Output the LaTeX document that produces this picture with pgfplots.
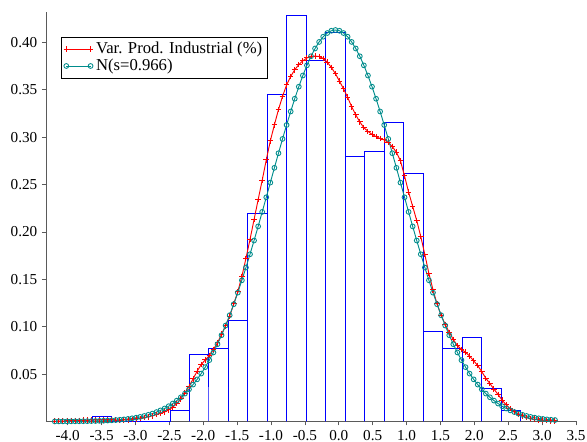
\documentclass[border=0pt]{standalone}
\usepackage{fontspec}
\setmainfont{Liberation Serif}
\usepackage{pgfplots}
\pgfplotsset{compat=1.18}
\usepackage{pgfplotstable}
\definecolor{tealc}{RGB}{0,140,140}
\definecolor{axgray}{RGB}{90,90,90}

\pgfplotstableread{
x y
-3.640 0
-3.640 0.0057
-3.3525 0.0057
-3.3525 0
-2.490 0
-2.490 0.0114
-2.2025 0.0114
-2.2025 0
-2.2025 0.0709
-1.915 0.0709
-1.915 0
-1.915 0.0772
-1.6275 0.0772
-1.6275 0
-1.6275 0.1067
-1.340 0.1067
-1.340 0
-1.340 0.2196
-1.0525 0.2196
-1.0525 0
-1.0525 0.3450
-0.765 0.3450
-0.765 0
-0.765 0.4285
-0.4775 0.4285
-0.4775 0
-0.4775 0.3806
-0.190 0.3806
-0.190 0
-0.190 0.4105
0.0975 0.4105
0.0975 0
0.0975 0.2797
0.385 0.2797
0.385 0
0.385 0.2853
0.6725 0.2853
0.6725 0
0.6725 0.3152
0.960 0.3152
0.960 0
0.960 0.2618
1.2475 0.2618
1.2475 0
1.2475 0.0947
1.535 0.0947
1.535 0
1.535 0.0768
1.8225 0.0768
1.8225 0
1.8225 0.0891
2.110 0.0891
2.110 0
2.110 0.0350
2.3975 0.0350
2.3975 0
2.3975 0.0114
2.685 0.0114
2.685 0
}\hist

\pgfplotstableread{
x y
-4.19 0.0002
-4.13 0.0003
-4.07 0.0004
-4.01 0.0005
-3.95 0.0007
-3.89 0.0009
-3.83 0.0011
-3.77 0.0013
-3.71 0.0015
-3.65 0.0016
-3.59 0.0017
-3.53 0.0018
-3.47 0.0018
-3.41 0.0017
-3.35 0.0016
-3.29 0.0015
-3.23 0.0015
-3.17 0.0016
-3.11 0.0018
-3.05 0.0021
-2.99 0.0026
-2.93 0.0032
-2.87 0.0040
-2.81 0.0049
-2.75 0.0060
-2.69 0.0072
-2.63 0.0086
-2.57 0.0100
-2.51 0.0122
-2.45 0.0150
-2.39 0.0190
-2.33 0.0240
-2.27 0.0300
-2.21 0.0370
-2.15 0.0450
-2.09 0.0530
-2.03 0.0600
-1.97 0.0650
-1.91 0.0695
-1.85 0.0760
-1.79 0.0830
-1.73 0.0920
-1.67 0.1010
-1.61 0.1110
-1.55 0.1240
-1.49 0.1370
-1.43 0.1530
-1.37 0.1720
-1.31 0.1920
-1.25 0.2130
-1.19 0.2340
-1.13 0.2545
-1.07 0.2760
-1.01 0.2960
-0.95 0.3130
-0.89 0.3290
-0.83 0.3430
-0.77 0.3550
-0.71 0.3640
-0.65 0.3710
-0.59 0.3765
-0.53 0.3805
-0.47 0.3835
-0.41 0.3850
-0.35 0.3855
-0.29 0.3850
-0.23 0.3830
-0.17 0.3790
-0.11 0.3735
-0.05 0.3670
0.01 0.3590
0.07 0.3510
0.13 0.3420
0.19 0.3320
0.25 0.3235
0.31 0.3160
0.37 0.3100
0.43 0.3060
0.49 0.3030
0.55 0.3005
0.61 0.2985
0.67 0.2970
0.73 0.2945
0.79 0.2900
0.85 0.2840
0.91 0.2750
0.97 0.2590
1.03 0.2420
1.09 0.2270
1.15 0.2120
1.21 0.1950
1.27 0.1760
1.33 0.1560
1.39 0.1390
1.45 0.1240
1.51 0.1120
1.57 0.1025
1.63 0.0940
1.69 0.0865
1.75 0.0800
1.81 0.0760
1.87 0.0730
1.93 0.0690
1.99 0.0640
2.05 0.0590
2.11 0.0525
2.17 0.0455
2.23 0.0400
2.29 0.0340
2.35 0.0285
2.41 0.0225
2.47 0.0175
2.53 0.0135
2.59 0.0105
2.65 0.0078
2.71 0.0058
2.77 0.0043
2.83 0.0031
2.89 0.0023
2.95 0.0017
3.01 0.0013
3.07 0.0010
3.13 0.0008
3.19 0.0006
}\kde

\pgfplotstableread{
x y
-4.19 0.00004
-4.13 0.00005
-4.07 0.00007
-4.01 0.00009
-3.95 0.00012
-3.89 0.00015
-3.83 0.00019
-3.77 0.00025
-3.71 0.00031
-3.65 0.00040
-3.59 0.00050
-3.53 0.00063
-3.47 0.00078
-3.41 0.00097
-3.35 0.0012
-3.29 0.0015
-3.23 0.0018
-3.17 0.0022
-3.11 0.0027
-3.05 0.0033
-2.99 0.0040
-2.93 0.0048
-2.87 0.0058
-2.81 0.0070
-2.75 0.0083
-2.69 0.0099
-2.63 0.0117
-2.57 0.0137
-2.51 0.0161
-2.45 0.0189
-2.39 0.0220
-2.33 0.0255
-2.27 0.0294
-2.21 0.0339
-2.15 0.0389
-2.09 0.0444
-2.03 0.0505
-1.97 0.0573
-1.91 0.0647
-1.85 0.0728
-1.79 0.0815
-1.73 0.0910
-1.67 0.1012
-1.61 0.1121
-1.55 0.1237
-1.49 0.1359
-1.43 0.1489
-1.37 0.1624
-1.31 0.1764
-1.25 0.1909
-1.19 0.2058
-1.13 0.2211
-1.07 0.2365
-1.01 0.2520
-0.95 0.2676
-0.89 0.2830
-0.83 0.2981
-0.77 0.3128
-0.71 0.3270
-0.65 0.3405
-0.59 0.3532
-0.53 0.3650
-0.47 0.3757
-0.41 0.3853
-0.35 0.3935
-0.29 0.4004
-0.23 0.4059
-0.17 0.4098
-0.11 0.4122
-0.05 0.4130
0.01 0.4122
0.07 0.4098
0.13 0.4059
0.19 0.4004
0.25 0.3935
0.31 0.3853
0.37 0.3757
0.43 0.3650
0.49 0.3532
0.55 0.3405
0.61 0.3270
0.67 0.3128
0.73 0.2981
0.79 0.2830
0.85 0.2676
0.91 0.2520
0.97 0.2365
1.03 0.2211
1.09 0.2058
1.15 0.1909
1.21 0.1764
1.27 0.1624
1.33 0.1489
1.39 0.1359
1.45 0.1237
1.51 0.1121
1.57 0.1012
1.63 0.0910
1.69 0.0815
1.75 0.0728
1.81 0.0647
1.87 0.0573
1.93 0.0505
1.99 0.0444
2.05 0.0389
2.11 0.0339
2.17 0.0294
2.23 0.0255
2.29 0.0220
2.35 0.0189
2.41 0.0161
2.47 0.0137
2.53 0.0117
2.59 0.0099
2.65 0.0083
2.71 0.0070
2.77 0.0058
2.83 0.0048
2.89 0.0040
2.95 0.0033
3.01 0.0027
3.07 0.0022
3.13 0.0018
3.19 0.0015
}\normal

\begin{document}
\begin{tikzpicture}
\useasboundingbox (-34.5pt,-15.4pt) rectangle (405.75pt,316.1pt);
\begin{axis}[
  at={(0,0)}, anchor=south west,
  scale only axis, width=397.5pt, height=307.1pt,
  xmin=-4.32, xmax=3.5, ymin=0, ymax=0.432,
  clip=false,
  axis x line=bottom, axis y line=left,
  axis line style={-, draw=axgray, line width=0.6pt},
  tick style={draw=axgray, line width=0.5pt},
  tick align=outside, major tick length=3pt,
  xtick={-4,-3.5,-3,-2.5,-2,-1.5,-1,-0.5,0,0.5,1,1.5,2,2.5,3,3.5},
  ytick={0.05,0.10,0.15,0.20,0.25,0.30,0.35,0.40},
  x tick label style={/pgf/number format/fixed, /pgf/number format/fixed zerofill, /pgf/number format/precision=1},
  y tick label style={/pgf/number format/fixed, /pgf/number format/fixed zerofill, /pgf/number format/precision=2},
  /pgf/number format/assume math mode=true,
  ticklabel style={font=\fontsize{11.4}{13}\selectfont},
  legend cell align=left,
  legend style={at={(0.028,0.939)}, anchor=north west, draw=black, fill=white,
    font=\fontsize{12.5}{13}\selectfont, inner sep=1.8pt, row sep=-1.5pt},
  legend image code/.code={\draw[mark repeat=2,mark phase=1,#1] plot coordinates {(0cm,0cm) (0.32cm,0cm) (0.64cm,0cm)};},
]
\addplot[blue, line width=0.75pt, mark=none, forget plot] table {\hist};
\addplot[red, line width=0.7pt, mark=+, mark size=2.1pt, mark options={line width=0.75pt}] table {\kde};
\addlegendentry{Var. Prod. Industrial (\%)}
\addplot[tealc, line width=0.7pt, mark=o, mark size=1.8pt, mark options={line width=0.65pt}] table {\normal};
\addlegendentry{N(s=0.966)}
\end{axis}
\end{tikzpicture}
\end{document}
